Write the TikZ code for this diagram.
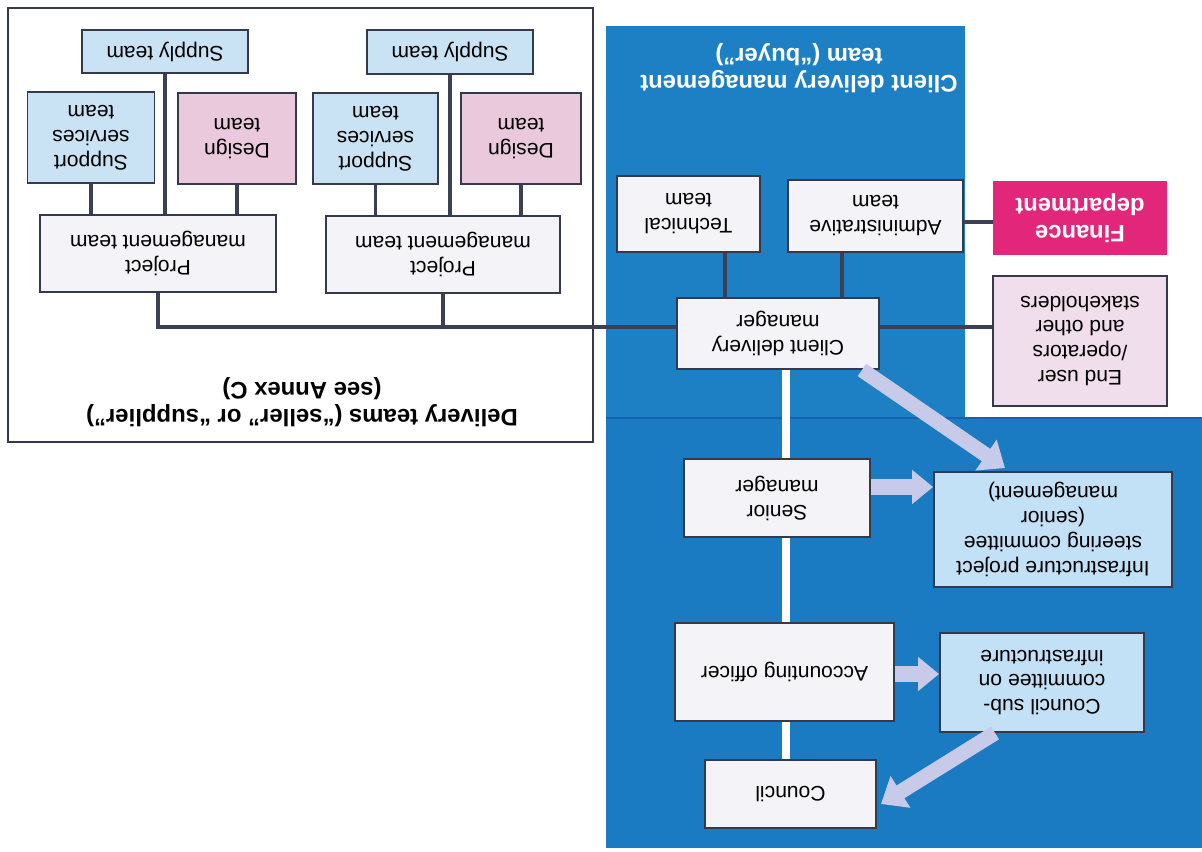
\documentclass[tikz,border=0pt]{standalone}
\usepackage{fontspec}
\setmainfont{Liberation Sans}
\usetikzlibrary{arrows.meta,calc}
\definecolor{blueup}{HTML}{1E80C4}
\definecolor{bluelow}{HTML}{1A7BC3}
\definecolor{sepcol}{HTML}{1562AE}
\definecolor{boxline}{HTML}{343A4C}
\definecolor{conncol}{HTML}{3B4052}
\definecolor{whitefill}{HTML}{F4F4F8}
\definecolor{lightblue}{HTML}{C9E3F4}
\definecolor{infblue}{HTML}{C3E1F6}
\definecolor{designpink}{HTML}{EBC9DD}
\definecolor{eupink}{HTML}{F1DEEC}
\definecolor{finpink}{HTML}{E2267A}
\definecolor{arrcol}{HTML}{C8CAEA}
\pgfdeclarelayer{bg}
\pgfdeclarelayer{lines}
\pgfsetlayers{bg,lines,main}
\begin{document}
\begin{tikzpicture}[x=0.02cm,y=-0.02cm,
  box/.style={draw=boxline,line width=1.1pt,rotate=180,inner sep=0pt,align=center,
    font=\fontsize{12}{14.2}\selectfont},
  whitebox/.style={box,fill=whitefill},
  bluebox/.style={box,fill=lightblue},
  infbox/.style={box,fill=infblue},
  pinkbox/.style={box,fill=designpink},
  eubox/.style={box,fill=eupink},
  finbox/.style={box,draw=none,fill=finpink,text=white,
    font=\fontsize{13.5}{15.5}\selectfont\bfseries},
  titletext/.style={rotate=180,align=center,inner sep=0pt,
    font=\fontsize{13.6}{15.5}\selectfont\bfseries},
  conn/.style={draw=conncol,line width=2.2pt},
  whiteline/.style={draw=white,line width=4.5pt},
  bigarrow/.style={draw=arrcol,line width=0.3cm,
    -{Triangle[width=0.72cm,length=0.46cm]}},
  smallarrow/.style={draw=arrcol,line width=0.32cm,
    -{Triangle[width=0.66cm,length=0.42cm]}}
]
\useasboundingbox (0,0) rectangle (1202,851);
\begin{pgfonlayer}{bg}
  \fill[white] (0,0) rectangle (1202,851);
  \fill[blueup] (606,26) rectangle (965,418);
  \fill[bluelow] (606,418) rectangle (1202,848);
  \draw[sepcol,line width=1pt] (606,418) -- (1202,418);
  \draw[boxline,line width=1.2pt] (8,8) rectangle (593,442);
\end{pgfonlayer}

% Delivery teams
\node[titletext] (dtitle) at (302,402.5) {Delivery teams (“seller” or “supplier”)\\(see Annex C)};
\node[bluebox,minimum width=3.32cm,minimum height=0.86cm] (sply1) at (165,51.5) {Supply team};
\node[bluebox,minimum width=2.54cm,minimum height=1.82cm] (sup1) at (91,137.5) {Support\\services\\team};
\node[pinkbox,minimum width=2.36cm,minimum height=1.82cm] (des1) at (237,138.5) {Design\\team};
\node[whitebox,minimum width=4.72cm,minimum height=1.54cm] (pm1) at (158,253.5) {Project\\management team};
\node[bluebox,minimum width=3.32cm,minimum height=0.88cm] (sply2) at (450,52) {Supply team};
\node[bluebox,minimum width=2.5cm,minimum height=1.82cm] (sup2) at (375.5,138.5) {Support\\services\\team};
\node[pinkbox,minimum width=2.4cm,minimum height=1.82cm] (des2) at (521,138.5) {Design\\team};
\node[whitebox,minimum width=4.68cm,minimum height=1.54cm] (pm2) at (443,254.5) {Project\\management team};

% Client delivery management team
\node[titletext,text=white] (ctitle) at (799,68.5) {Client delivery management\\team (“buyer”)};
\node[whitebox,minimum width=2.86cm,minimum height=1.52cm] (tech) at (688.5,214) {Technical\\team};
\node[whitebox,minimum width=3.5cm,minimum height=1.44cm] (adm) at (875.5,216) {Administrative\\team};
\node[finbox,minimum width=3.48cm,minimum height=1.48cm] (fin) at (1080,218) {Finance\\department};
\node[whitebox,minimum width=4.04cm,minimum height=1.42cm] (cdm) at (778,333.5) {Client delivery\\manager};
\node[eubox,minimum width=3.48cm,minimum height=2.6cm] (eu) at (1080,341) {End user\\/operators\\and other\\stakeholders};

% lower region
\node[whitebox,minimum width=3.72cm,minimum height=1.56cm] (sen) at (777,498) {Senior\\manager};
\node[infbox,minimum width=4.76cm,minimum height=2.3cm] (inf) at (1053,529.5) {Infrastructure project\\steering committee\\(senior\\management)};
\node[whitebox,minimum width=4.38cm,minimum height=1.96cm] (acc) at (784.5,672) {Accounting officer};
\node[infbox,minimum width=4.08cm,minimum height=1.98cm] (cs) at (1042,682.5) {Council sub-\\committee on\\infrastructure};
\node[whitebox,minimum width=3.42cm,minimum height=1.36cm] (cou) at (790.5,794) {Council};

% connectors
\coordinate (bus) at (600,327);
\coordinate (wl) at (786,600);
\coordinate (techx) at ([xshift=0.73cm]tech.center);
\coordinate (admx) at ([xshift=-0.67cm]adm.center);
\coordinate (admy) at ([yshift=-0.12cm]adm.center);
\begin{pgfonlayer}{lines}
  \draw[conn] (sup1.center) -- (sup1.center |- pm1.center);
  \draw[conn] (sply1.center) -- (sply1.center |- pm1.center);
  \draw[conn] (des1.center) -- (des1.center |- pm1.center);
  \draw[conn] (sup2.center) -- (sup2.center |- pm2.center);
  \draw[conn] (sply2.center) -- (sply2.center |- pm2.center);
  \draw[conn] (des2.center) -- (des2.center |- pm2.center);
  \draw[conn] (pm1.center) -- (pm1.center |- bus) -- (bus -| eu.center);
  \draw[conn] (pm2.center) -- (pm2.center |- bus);
  \draw[conn] (techx) -- (techx |- cdm.center);
  \draw[conn] (admx) -- (admx |- cdm.center);
  \draw[conn] (admy) -- (admy -| fin.center);
  \draw[whiteline] (cdm.center -| wl) -- (cou.center -| wl);
\end{pgfonlayer}

% big arrows
\coordinate (a2) at ([yshift=0.22cm]sen.west);
\coordinate (a3) at ([yshift=-0.04cm]acc.west);
\draw[bigarrow] ([xshift=1.68cm]cdm.north) -- ([xshift=-0.96cm,yshift=0.06cm]inf.south);
\draw[smallarrow] (a2) -- (a2 -| inf.east);
\draw[smallarrow] (a3) -- (a3 -| cs.east);
\draw[bigarrow] ([xshift=-0.94cm]cs.north) -- ([xshift=0.08cm,yshift=-0.2cm]cou.west);
\end{tikzpicture}
\end{document}
